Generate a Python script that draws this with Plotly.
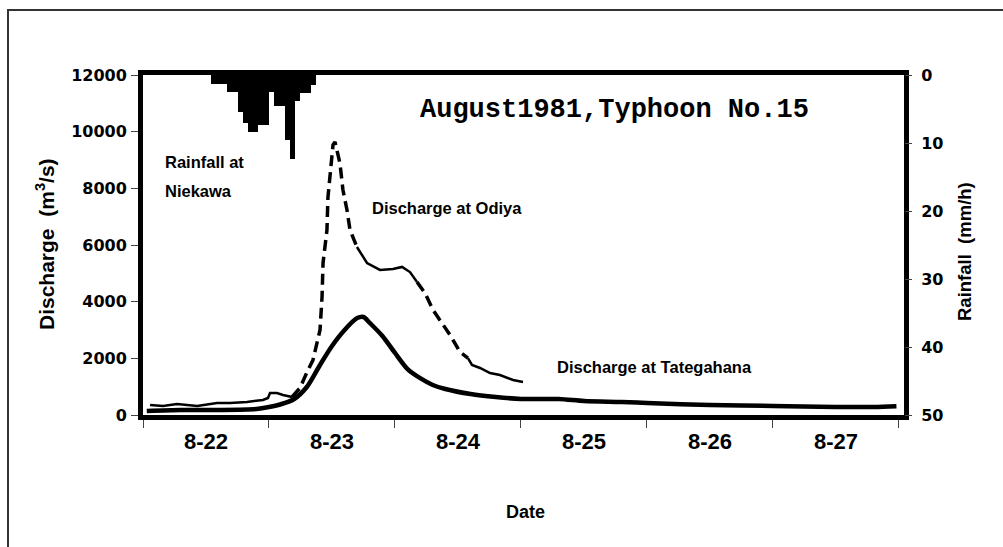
import plotly.graph_objects as go

# ---------------- data ----------------
# Rainfall at Niekawa (hourly, hours from 8-22 00:00)
rain_hour = [13, 14, 15, 16, 17, 18, 19, 20, 21, 22, 23, 24, 25, 26, 27, 28, 29, 30, 31, 32]
rain_mm = [1.3, 1.3, 1.3, 2.5, 2.5, 5.4, 7.0, 8.4, 8.4, 7.4, 7.4, 2.5, 4.6, 4.6, 9.6, 12.4, 3.8, 2.6, 2.6, 1.5]

# Discharge at Odiya (days from 8-22 00:00, m3/s)
odiya_day = [0.056, 0.159, 0.27, 0.43, 0.587, 0.69, 0.825, 0.952, 0.992, 1.008, 1.063, 1.111,
             1.183, 1.246, 1.302, 1.349, 1.405, 1.421, 1.429, 1.46, 1.468, 1.484, 1.508, 1.524,
             1.563, 1.587, 1.619, 1.643, 1.698, 1.778, 1.881, 1.984, 2.056, 2.119, 2.175, 2.238,
             2.302, 2.373, 2.437, 2.516, 2.579, 2.611, 2.675, 2.754, 2.833, 2.873, 2.937, 3.016]
odiya_q = [353, 318, 388, 318, 424, 424, 459, 530, 600, 776, 776, 706,
           635, 953, 1518, 1940, 3000, 4165, 5365, 6530, 7690, 8540, 9530, 9635,
           8890, 7940, 7235, 6530, 5930, 5365, 5120, 5150, 5225, 5045, 4695, 4305,
           3705, 3245, 2825, 2225, 2010, 1765, 1660, 1480, 1410, 1340, 1235, 1165]

# Discharge at Tategahana
tate_day = [0.03, 0.3, 0.6, 0.9, 1.0, 1.1, 1.2, 1.3, 1.4, 1.5, 1.6, 1.7, 1.75, 1.8, 1.9, 2.0,
            2.1, 2.2, 2.3, 2.4, 2.6, 2.8, 3.0, 3.3, 3.5, 3.8, 4.0, 4.5, 5.0, 5.5, 5.8, 5.98]
tate_q = [141, 176, 176, 212, 282, 388, 565, 988, 1730, 2435, 3000, 3420, 3460, 3250, 2790, 2190,
          1620, 1300, 1060, 918, 740, 635, 565, 565, 494, 459, 424, 353, 318, 282, 282, 310]

day_ticks = [0, 1, 2, 3, 4, 5, 6]
day_label_pos = [0.5, 1.5, 2.5, 3.5, 4.5, 5.5]
day_labels = ["8-22", "8-23", "8-24", "8-25", "8-26", "8-27"]
q_ticks = [0, 2000, 4000, 6000, 8000, 10000, 12000]
rain_ticks = [0, 10, 20, 30, 40, 50]

# style: spans of the Odiya record drawn dashed
odiya_dashed_spans = [(1.183, 1.698), (2.175, 2.579)]

fig = go.Figure()

# rainfall bars (reversed right axis)
fig.add_trace(go.Bar(
    x=[(h + 0.5) / 24 for h in rain_hour], y=rain_mm, width=1 / 24,
    marker=dict(color="black", line=dict(width=0)), yaxis="y2", hoverinfo="skip"))

# Tategahana
fig.add_trace(go.Scatter(x=tate_day, y=tate_q, mode="lines",
                         line=dict(color="black", width=4.5, shape="spline", smoothing=0.8)))

# Odiya split into solid / dashed pieces
bounds = [odiya_day[0]]
for a, b in odiya_dashed_spans:
    bounds += [a, b]
bounds.append(odiya_day[-1])
for i in range(len(bounds) - 1):
    a, b = bounds[i], bounds[i + 1]
    xs = [d for d in odiya_day if a - 1e-9 <= d <= b + 1e-9]
    ys = [q for d, q in zip(odiya_day, odiya_q) if a - 1e-9 <= d <= b + 1e-9]
    dashed = (i % 2 == 1)
    fig.add_trace(go.Scatter(
        x=xs, y=ys, mode="lines",
        line=dict(color="black", width=3.5 if dashed else 2.5,
                  dash="11px,6px" if dashed else "solid")))

tick_font = dict(family="DejaVu Sans", size=16, color="black")
fig.update_layout(
    width=1003, height=547,
    margin=dict(l=143, r=99, t=75, b=132),
    plot_bgcolor="white", paper_bgcolor="white",
    showlegend=False, bargap=0,
    xaxis=dict(range=[0, 6.04], tickvals=day_label_pos, ticktext=["<b>%s</b>" % s for s in day_labels],
               ticks="", showgrid=False, zeroline=False,
               showline=True, linecolor="black", linewidth=5, mirror=True,
               tickfont=dict(family="Liberation Sans", size=22, color="black"),
               ticklabelstandoff=3,
               minor=dict(tickvals=day_ticks, ticks="outside", ticklen=8, tickwidth=1, tickcolor="#444")),
    yaxis=dict(range=[0, 12000], tickvals=q_ticks, ticktext=["<b>%d</b>" % v for v in q_ticks],
               ticks="outside", ticklen=7, tickwidth=1, tickcolor="#444",
               showgrid=False, zeroline=False,
               showline=True, linecolor="black", linewidth=5, mirror=True,
               tickfont=tick_font, ticklabelstandoff=1),
    yaxis2=dict(range=[50, 0], overlaying="y", side="right", tickvals=rain_ticks,
                ticktext=["<b>%d</b>" % v for v in rain_ticks],
                ticks="outside", ticklen=7, tickwidth=1, tickcolor="#444",
                showgrid=False, zeroline=False, showline=False,
                tickfont=tick_font, ticklabelstandoff=6),
)

ann_font = dict(family="Liberation Sans", size=16.5, color="black")
fig.add_annotation(x=0.159, y=8929, xref="x", yref="y", text="<b>Rainfall at</b>",
                   showarrow=False, xanchor="left", yanchor="middle", font=ann_font)
fig.add_annotation(x=0.159, y=7905, xref="x", yref="y", text="<b>Niekawa</b>",
                   showarrow=False, xanchor="left", yanchor="middle", font=ann_font)
fig.add_annotation(x=1.80, y=7305, xref="x", yref="y", text="<b>Discharge at Odiya</b>",
                   showarrow=False, xanchor="left", yanchor="middle", font=ann_font)
fig.add_annotation(x=3.27, y=1694, xref="x", yref="y", text="<b>Discharge at Tategahana</b>",
                   showarrow=False, xanchor="left", yanchor="middle", font=ann_font)
fig.add_annotation(x=3.746, y=10765, xref="x", yref="y", text="<b>August1981,Typhoon No.15</b>",
                   showarrow=False, xanchor="center", yanchor="middle",
                   font=dict(family="Liberation Mono", size=27, color="black"))
fig.add_annotation(x=(525 - 143) / 761, y=(415 - 512) / 340, xref="paper", yref="paper",
                   text="<b>Date</b>", showarrow=False, xanchor="center", yanchor="middle",
                   font=dict(family="Liberation Sans", size=18, color="black"))
fig.add_annotation(x=(45 - 143) / 761, y=(415 - 244) / 340, xref="paper", yref="paper",
                   text="<b>Discharge  (m<sup>3</sup>/s)</b>", textangle=-90, showarrow=False,
                   xanchor="center", yanchor="middle",
                   font=dict(family="Liberation Sans", size=21, color="black"))
fig.add_annotation(x=(965 - 143) / 761, y=(415 - 252) / 340, xref="paper", yref="paper",
                   text="<b>Rainfall  (mm/h)</b>", textangle=-90, showarrow=False,
                   xanchor="center", yanchor="middle",
                   font=dict(family="Liberation Sans", size=18.5, color="black"))

# outer frame
fig.add_shape(type="rect", xref="paper", yref="paper",
              x0=(8 - 143) / 761, x1=(1010 - 143) / 761,
              y0=(415 - 560) / 340, y1=(415 - 10) / 340,
              line=dict(color="#333333", width=2), fillcolor="rgba(0,0,0,0)", layer="below")

fig.write_html("out.html", config={"displayModeBar": False},
               post_script="document.body.style.margin='0';document.body.style.overflow='hidden';")
